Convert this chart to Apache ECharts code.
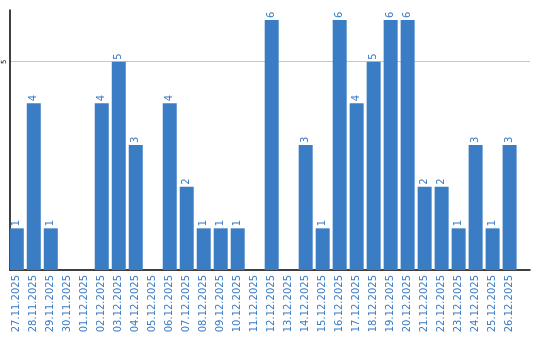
<!DOCTYPE html>
<html><head><meta charset="utf-8">
<script src="https://cdn.jsdelivr.net/npm/echarts@6/dist/echarts.min.js"></script>
<style>html,body{margin:0;padding:0;background:#fff}#c{width:540px;height:340px}</style>
</head><body><div id="c"></div>
<script>
const categories = ["27.11.2025","28.11.2025","29.11.2025","30.11.2025","01.12.2025","02.12.2025","03.12.2025","04.12.2025","05.12.2025","06.12.2025","07.12.2025","08.12.2025","09.12.2025","10.12.2025","11.12.2025","12.12.2025","13.12.2025","14.12.2025","15.12.2025","16.12.2025","17.12.2025","18.12.2025","19.12.2025","20.12.2025","21.12.2025","22.12.2025","23.12.2025","24.12.2025","25.12.2025","26.12.2025"];
const values = [1,4,1,0,0,4,5,3,0,4,2,1,1,1,0,6,0,3,1,6,4,5,6,6,2,2,1,3,1,3];
const yTickLabels = ["5"];
const seriesData = values.map((v,i)=>[i,v]);
const chart = echarts.init(document.getElementById('c'), null, {renderer:'canvas'});
chart.setOption({
  animation:false,
  grid:{left:10,right:10,top:10,bottom:70,containLabel:false},
  xAxis:{type:'value',min:-0.4,max:30.2,interval:0.2,
    splitLine:{show:false},
    axisLine:{show:true,onZero:false,lineStyle:{color:'#000',width:1.5}},axisTick:{show:false},
    axisLabel:{rotate:90,color:'#3a7cc4',fontFamily:'DejaVu Sans',fontSize:10,margin:5,
      showMinLabel:true,showMaxLabel:true,
      formatter:v=>{const r=Math.round(v);return (Math.abs(v-r)<1e-6&&r>=0&&r<categories.length)?categories[r]:'';}}},
  yAxis:{type:'value',min:0,max:6.24,interval:5,
    axisLine:{show:true,onZero:false,lineStyle:{color:'#000',width:1.5}},axisTick:{show:false},
    splitLine:{showMaxLine:false,showMinLine:false,lineStyle:{color:'#c8c8c8'}},
    axisLabel:{rotate:90,color:'#000',fontFamily:'DejaVu Sans',fontSize:7,margin:2,
      formatter:v=>yTickLabels.includes(String(v))?String(v):''}},
  series:[{type:'bar',data:seriesData,barWidth:14,
    itemStyle:{color:'#3b7dc4'},
    label:{show:true,position:'top',rotate:90,align:'left',verticalAlign:'middle',distance:2,
      color:'#3a7cc4',fontFamily:'DejaVu Sans',fontSize:10,
      formatter:p=>p.value[1]?String(p.value[1]):''}}]
});
</script></body></html>
